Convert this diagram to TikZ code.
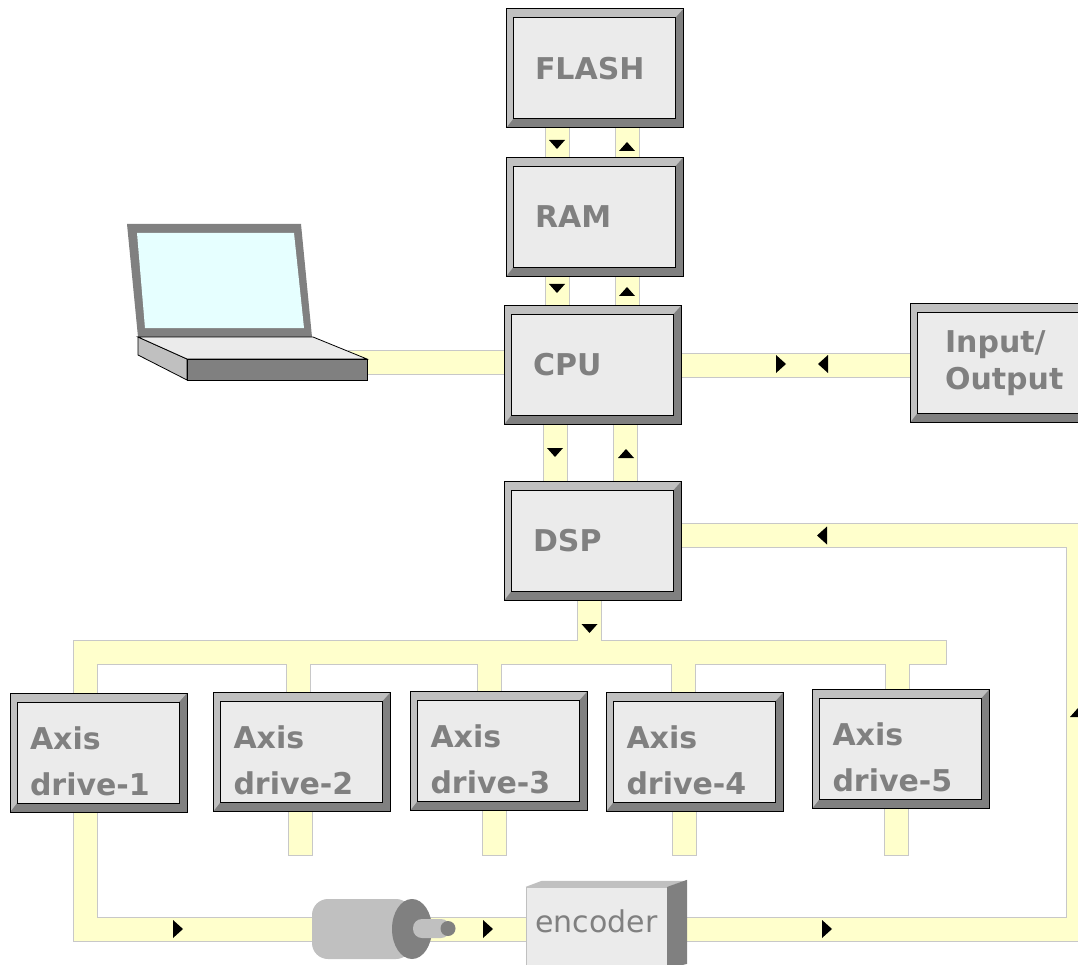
\documentclass[tikz,border=0pt]{standalone}
\usepackage{fontspec}
\newfontfamily\labelfont{DejaVu Sans}
\usetikzlibrary{backgrounds}
\definecolor{busfill}{HTML}{FFFFCC}
\definecolor{busedge}{HTML}{C8C8C8}
\definecolor{bevlight}{HTML}{C0C0C0}
\definecolor{bevdark}{HTML}{808080}
\definecolor{chipface}{HTML}{EBEBEB}
\definecolor{screen}{HTML}{E6FFFF}
\begin{document}
\begin{tikzpicture}[x=1pt,y=-1pt,
    chip/.style={rectangle, minimum width=177pt, minimum height=119pt, inner xsep=29pt, text width=119pt, align=left,
      draw=black, line width=1pt, text=bevdark, font=\labelfont\bfseries\fontsize{30}{37}\selectfont,
      path picture={
        \fill[bevdark] (path picture bounding box.south west) rectangle (path picture bounding box.north east);
        \fill[bevlight] (path picture bounding box.south west) -- (path picture bounding box.north west) -- (path picture bounding box.north east)
          -- ([shift={(-8pt,-9pt)}]path picture bounding box.north east) -- ([shift={(7pt,-9pt)}]path picture bounding box.north west)
          -- ([shift={(7pt,9pt)}]path picture bounding box.south west) -- cycle;
        \draw[black, fill=chipface, line width=1pt] ([shift={(7pt,9pt)}]path picture bounding box.south west) rectangle ([shift={(-8pt,-9pt)}]path picture bounding box.north east);}},
    drivebox/.style={chip, inner xsep=20pt, text width=137pt, text height=41pt, font=\labelfont\bfseries\fontsize{30}{46}\selectfont},
    pipeout/.style={draw=busedge, line width=25pt, line cap=rect, line join=miter},
    pipein/.style={draw=busfill, line width=23pt, line cap=rect, line join=miter},
    tipdown/.pic={\fill (-8,-4) -- (8,-4) -- (0,5) -- cycle;},
    tipup/.pic={\fill (-8,4) -- (8,4) -- (0,-5) -- cycle;},
    tipright/.pic={\fill (-5,-9) -- (-5,9) -- (5,0) -- cycle;},
    tipleft/.pic={\fill (5,-9) -- (5,9) -- (-5,0) -- cycle;}]
  \useasboundingbox (0,0) rectangle (1078,965);
  % memory and processors
  \node[chip] (flash) at (594.5,68.5) {FLASH};
  \node[chip] (ram) at (594.5,217) {RAM};
  \node[chip] (cpu) at (592.5,365) {CPU};
  \node[chip] (dsp) at (592.5,541) {DSP};
  \node[chip, inner xsep=35pt, text width=107pt] (io) at (998.5,363) {Input/\\Output};
  % axis drives
  \foreach \n/\x/\y in {1/98.5/752.5, 2/302/751.5, 3/499/750.5, 4/695/751.5, 5/901/748.5}
    \node[drivebox] (ax\n) at (\x,\y) {Axis\\drive-\n};
  % encoder
  \node[draw=bevlight, fill=chipface, minimum width=141pt, minimum height=82pt, inner sep=0pt, text=bevdark,
    font=\labelfont\fontsize{30}{36}\selectfont, text depth=14pt] (enc) at (596.5,928) {encoder};
  \fill[bevlight] (enc.north west) -- ++(16,-6) -- ++(144,0) -- (enc.north east) -- cycle;
  \fill[bevdark] (enc.north east) -- ++(20,-7) -- ++(0,84) -- (enc.south east) -- cycle;
  % motor
  \fill[bevlight, rounded corners=16pt] (312,899) rectangle (412,959);
  \fill[bevdark] (412,929) ellipse [x radius=20pt, y radius=30pt];
  \fill[bevlight, rounded corners=9pt] (413,919) rectangle (450,938);
  \fill[bevdark] (448,928.5) circle (7.5pt);
  % laptop
  \fill[bevdark] (127,224) -- (301,224) -- (312,337) -- (138,337) -- cycle;
  \fill[screen] (137,233) -- (294,233) -- (304,328) -- (145,328) -- cycle;
  \filldraw[fill=bevlight, draw=black, line width=.8pt] (138,337) -- (187,359) -- (187,380) -- (138,355) -- cycle;
  \filldraw[fill=chipface, draw=black, line width=.8pt] (138,337) -- (313,337) -- (367,359) -- (187,359) -- cycle;
  \filldraw[fill=bevdark, draw=black, line width=1pt] (187,359) rectangle (367,380);
  \coordinate (lapport) at (360,362);
  \coordinate (busL) at (85,652);
  \coordinate (busR) at (934,652);
  \coordinate (loopSW) at (85,929);
  \coordinate (loopSE) at (1078,929);
  \coordinate (loopNE) at (1078,535.5);
  % buses
  \begin{scope}[on background layer]
    \foreach \s in {pipeout,pipein}{
      \draw[\s] ([xshift=-37.5pt]flash.south) -- ++(0,30);
      \draw[\s] ([xshift=32.5pt]flash.south) -- ++(0,30);
      \draw[\s] ([xshift=-37.5pt]ram.south) -- ++(0,30);
      \draw[\s] ([xshift=32.5pt]ram.south) -- ++(0,30);
      \draw[\s] ([xshift=-37.5pt]cpu.south) -- ++(0,58);
      \draw[\s] ([xshift=33pt]cpu.south) -- ++(0,58);
      \draw[\s] ([xshift=-3pt]dsp.south) -- ++(0,45);
      \draw[\s] ([xshift=-13.5pt]ax1.north) -- (busL) -- (busR);
      \draw[\s] ([xshift=-4pt]ax2.north) -- ++(0,-37);
      \draw[\s] ([xshift=-9.5pt]ax3.north) -- ++(0,-36);
      \draw[\s] ([xshift=-12pt]ax4.north) -- ++(0,-37);
      \draw[\s] ([xshift=-4pt]ax5.north) -- ++(0,-34);
      \draw[\s] ([xshift=-2pt]ax2.south) -- ++(0,32);
      \draw[\s] ([xshift=-5pt]ax3.south) -- ++(0,33);
      \draw[\s] ([xshift=-10.5pt]ax4.south) -- ++(0,32);
      \draw[\s] ([xshift=-4.5pt]ax5.south) -- ++(0,35);
      \draw[\s] ([xshift=-13.5pt]ax1.south) -- (loopSW) -- (loopSE) -- (loopNE) -- ([yshift=5.5pt]dsp.east);
      \draw[\s] (lapport) -- (lapport -| cpu.west);
      \draw[\s] (cpu.east) -- (cpu.east -| io.west);
    }
  \end{scope}
  % direction marks
  \pic at (557,144) {tipdown};
  \pic at (627,147) {tipup};
  \pic at (557,288) {tipdown};
  \pic at (627,292) {tipup};
  \pic at (555,452) {tipdown};
  \pic at (626,454) {tipup};
  \pic at (589.5,628) {tipdown};
  \pic at (781,364) {tipright};
  \pic at (823,364) {tipleft};
  \pic at (822,535.5) {tipleft};
  \pic at (1078,713) {tipup};
  \pic at (178,929) {tipright};
  \pic at (488,929) {tipright};
  \pic at (827,929) {tipright};
\end{tikzpicture}
\end{document}
